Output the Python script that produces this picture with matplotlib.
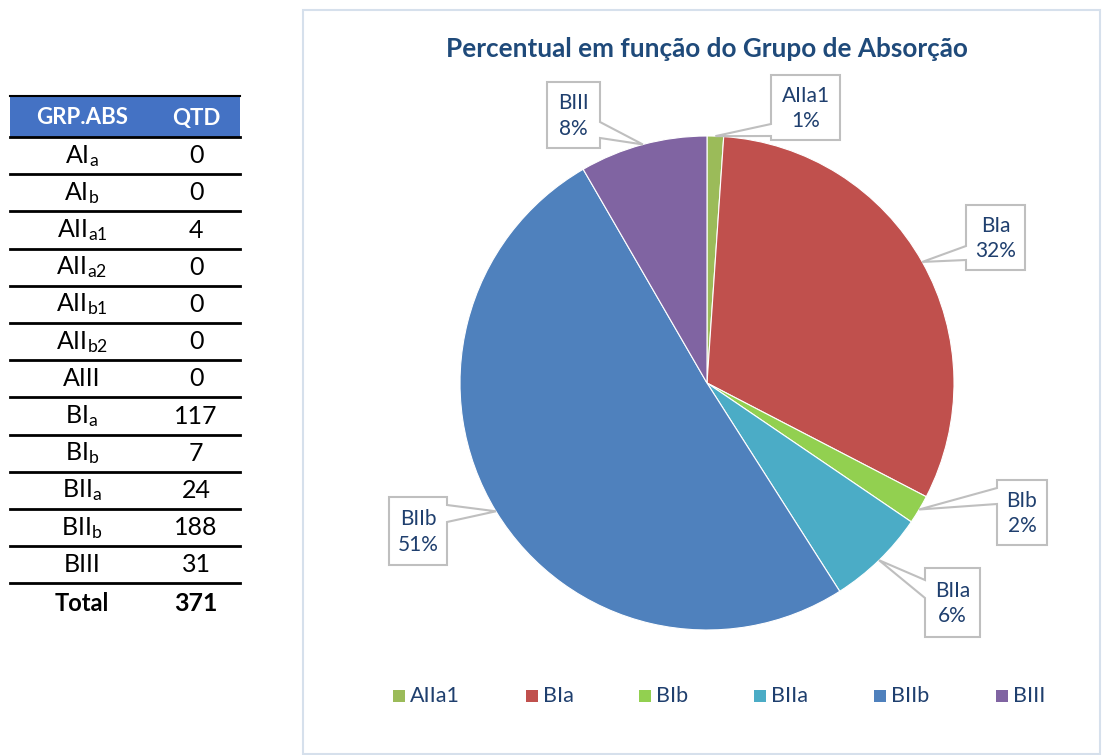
import numpy as np
import matplotlib
matplotlib.use("Agg")
import matplotlib.pyplot as plt
from matplotlib.patches import Rectangle, Polygon

plt.rcParams['font.family'] = ['Lato', 'DejaVu Sans']
plt.rcParams['mathtext.fontset'] = 'custom'
plt.rcParams['mathtext.rm'] = 'Lato'
plt.rcParams['mathtext.it'] = 'Lato:italic'
plt.rcParams['mathtext.bf'] = 'Lato:bold'

# ---------------- data ----------------
table_header = ["GRP.ABS", "QTD"]
table_labels = [r"AI$_{\mathrm{a}}$", r"AI$_{\mathrm{b}}$", r"AII$_{\mathrm{a1}}$", r"AII$_{\mathrm{a2}}$",
                r"AII$_{\mathrm{b1}}$", r"AII$_{\mathrm{b2}}$", "AIII", r"BI$_{\mathrm{a}}$",
                r"BI$_{\mathrm{b}}$", r"BII$_{\mathrm{a}}$", r"BII$_{\mathrm{b}}$", "BIII"]
table_values = [0, 0, 4, 0, 0, 0, 0, 117, 7, 24, 188, 31]
total_label = "Total"

title = "Percentual em função do Grupo de Absorção"
categories = ["AIIa1", "BIa", "BIb", "BIIa", "BIIb", "BIII"]
values = [4, 117, 7, 24, 188, 31]
colors = ["#9BBB59", "#C0504D", "#92D050", "#4BACC6", "#4F81BD", "#8064A2"]

# ---------------- layout ----------------
W, H = 1102, 755
TXT = "#1F3F6E"
TITLE_C = "#1F4A7A"
fig = plt.figure(figsize=(W / 100, H / 100), dpi=100)
fig.patch.set_facecolor("white")

# pie geometry (pixels)
cx, cy, R = 707, 383, 247
axp = fig.add_axes([(cx - R) / W, (H - cy - R) / H, 2 * R / W, 2 * R / H])
axp.set_zorder(1)
axp.pie(values, colors=colors, startangle=90, counterclock=False,
        wedgeprops=dict(edgecolor="white", linewidth=0.8))
axp.set_xlim(-1, 1)
axp.set_ylim(-1, 1)
axp.axis("off")

# overlay in pixel coordinates
ax = fig.add_axes([0, 0, 1, 1])
ax.set_zorder(2)
ax.patch.set_visible(False)
ax.set_xlim(0, W)
ax.set_ylim(H, 0)
ax.axis("off")

# ---------- table ----------
tx0, tx1 = 10, 240
col1, col2 = 82, 196
ax.add_patch(Rectangle((tx0, 96), tx1 - tx0, 41, facecolor="#4472C4", edgecolor="none"))
ax.plot([tx0, tx1], [96, 96], color="black", lw=1.5)
ax.text(col1, 118, table_header[0], color="white", fontsize=16, fontweight="bold", ha="center", va="center")
ax.text(col2, 118, table_header[1], color="white", fontsize=16, fontweight="bold", ha="center", va="center")
row_h = 37.2
y_line = 137
for i, (lab, val) in enumerate(zip(table_labels, table_values)):
    ax.plot([tx0, tx1], [y_line + i * row_h, y_line + i * row_h], color="black", lw=2)
    yc = y_line + (i + 0.5) * row_h
    ax.text(col1, yc, lab, color="black", fontsize=18, ha="center", va="center")
    ax.text(col2, yc, str(val), color="black", fontsize=18, ha="center", va="center")
ylast = y_line + len(table_labels) * row_h
ax.plot([tx0, tx1], [ylast, ylast], color="black", lw=2)
ax.text(col1, ylast + 20, total_label, color="black", fontsize=17, fontweight="bold", ha="center", va="center")
ax.text(col2, ylast + 20, str(sum(table_values)), color="black", fontsize=18, fontweight="bold", ha="center", va="center")

# ---------- chart area ----------
ax.add_patch(Rectangle((303, 10), 797, 744, facecolor="none", edgecolor="#D6E0EC", lw=1.5))
ax.text(707, 49, title, color=TITLE_C, fontsize=18.8, fontweight="bold", ha="center", va="center")

# callouts: box (x0, y0, x1, y1), wedge side, base span
boxes = {
    "AIIa1": ((771, 75, 840, 140), "left", (124, 136)),
    "BIa": ((966, 205, 1025, 270), "left", (246, 260)),
    "BIb": ((997, 480, 1047, 545), "left", (488, 504)),
    "BIIa": ((925, 568, 980, 637), "left", (580, 598)),
    "BIIb": ((389, 497, 447, 565), "right", (505, 522)),
    "BIII": ((547, 82, 600, 148), "right", (122, 138)),
}
total = sum(values)
cum = np.cumsum([0] + values)
for k, cat in enumerate(categories):
    mid = (cum[k] + values[k] / 2) / total * 360.0
    ang = np.deg2rad(90 - mid)
    tip = (cx + R * np.cos(ang), cy - R * np.sin(ang))
    (x0, y0, x1, y1), side, (a, b) = boxes[cat]
    if side == "left":
        verts = [(x0, y0), (x1, y0), (x1, y1), (x0, y1), (x0, b), tip, (x0, a)]
    else:
        verts = [(x0, y0), (x1, y0), (x1, a), tip, (x1, b), (x1, y1), (x0, y1)]
    ax.add_patch(Polygon(verts, closed=True, facecolor="white", edgecolor="#BFBFBF", lw=1.5))
    pct = round(values[k] / total * 100)
    ax.text((x0 + x1) / 2, (y0 + y1) / 2 + 1, f"{cat}\n{pct}%", color=TXT, fontsize=15,
            ha="center", va="center", linespacing=1.35)

# ---------- legend ----------
leg_x = [399, 532, 645, 760, 880, 1002]
leg_y = 696
for cat, col, lx in zip(categories, colors, leg_x):
    ax.add_patch(Rectangle((lx - 6, leg_y - 6), 12, 12, facecolor=col, edgecolor="none"))
    ax.text(lx + 11, leg_y, cat, color=TXT, fontsize=15.5, ha="left", va="center")

fig.savefig("out.png", dpi=100, facecolor="white")
